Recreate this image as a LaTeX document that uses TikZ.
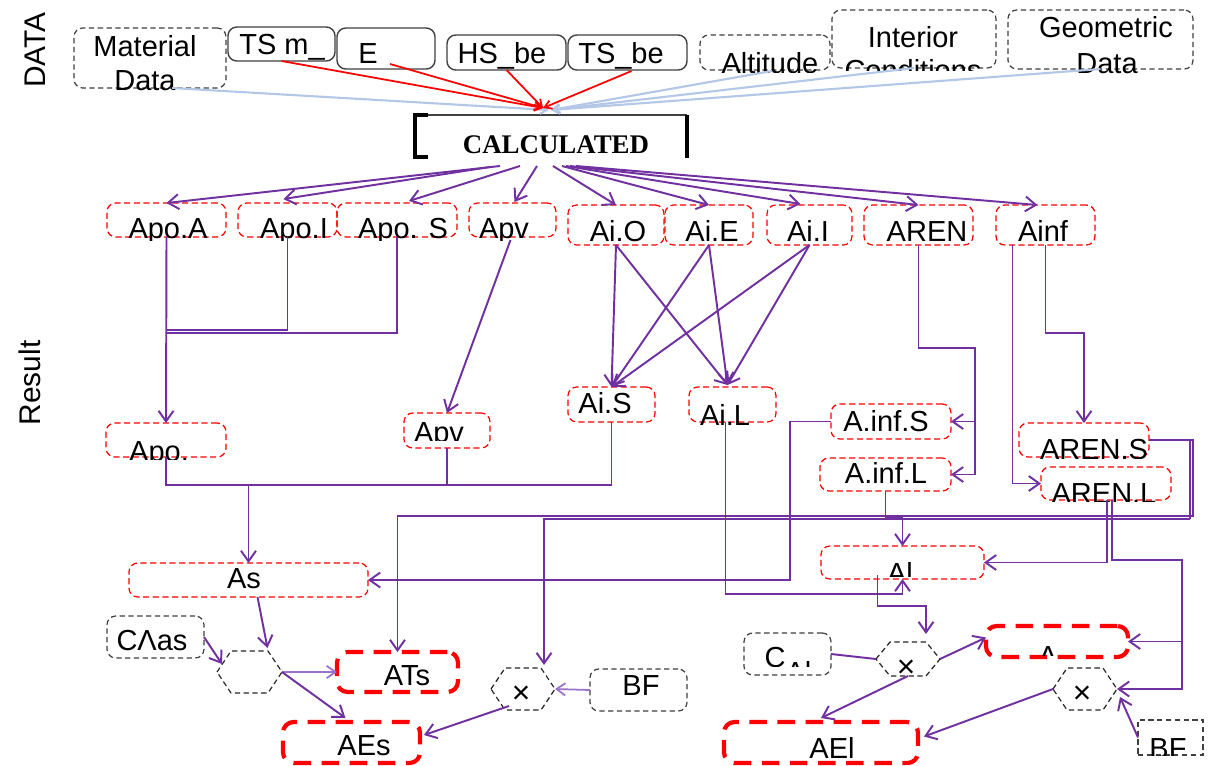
\documentclass[tikz,border=0pt]{standalone}
\usepackage{fontspec}
\setmainfont{Liberation Sans}
\newfontfamily\calcfont{Liberation Serif}
\usetikzlibrary{arrows.meta,calc}
\definecolor{pur}{HTML}{7030A0}
\definecolor{purl}{HTML}{9B72CB}
\definecolor{lblue}{HTML}{B4C7E7}
\definecolor{dgray}{HTML}{404040}
\newcommand\mkbox[6]{\node[#1, minimum width=(#4-#2)*0.02cm, minimum height=(#5-#3)*0.02cm, inner sep=0, outer sep=0] (#6) at ({(#2+#4)/2},{(#3+#5)/2}) {};}
\newcommand\ctxt[4]{\begin{scope}\clip (0,0) rectangle (1211,#3);\node[txt] (#1) at (#2) {#4};\end{scope}}
\newcommand\hexdraw[1]{\draw[hexl] (#1.west) -- ($(#1.north west)+(14,0)$) -- ($(#1.north east)+(-14,0)$) -- (#1.east) -- ($(#1.south east)+(-14,0)$) -- ($(#1.south west)+(14,0)$) -- cycle;}
\begin{document}
\begin{tikzpicture}[x=0.02cm,y=-0.02cm,
  rb/.style={draw=red, line width=0.7pt, dash pattern=on 3.5pt off 2pt, rounded corners=5pt},
  rt/.style={draw=red, line width=2.4pt, dash pattern=on 10pt off 6pt, rounded corners=6pt},
  kb/.style={draw=dgray, line width=0.7pt, dash pattern=on 3pt off 2pt, rounded corners=5pt},
  kq/.style={draw=dgray, line width=0.7pt, dash pattern=on 3pt off 2pt},
  ks/.style={draw=dgray, line width=0.8pt, rounded corners=5pt},
  hexl/.style={draw=black!85, line width=0.7pt, dash pattern=on 3pt off 2pt},
  txt/.style={font=\fontsize{16.5}{19}\selectfont, inner sep=0, anchor=base},
  tms/.style={font=\fontsize{18}{20}\selectfont, inner sep=0, anchor=center},
  pl/.style={draw=pur, line width=1.1pt},
  pa/.style={pl, -{Straight Barb[length=6pt,width=8.5pt]}},
  pal/.style={draw=purl, line width=1pt, -{Straight Barb[length=5pt,width=7pt]}},
  ra/.style={draw=red, line width=1pt, -{Straight Barb[length=4pt,width=5pt]}},
  ba/.style={draw=lblue, line width=1.2pt, -{Straight Barb[length=4pt,width=5pt]}}]
\useasboundingbox (0,0) rectangle (1211,765);
\fill[white] (0,0) rectangle (1211,765);

% side labels
\node[txt, anchor=center, rotate=90, font=\fontsize{17}{20}\selectfont] (datal) at (35,50) {DATA};
\node[txt, anchor=center, rotate=90, font=\fontsize{17}{20}\selectfont] (resl) at (30,383) {Result};

% data row
\mkbox{kb}{74}{28}{226}{88}{matd}
\node[txt] (matd1) at (145,56) {Material};
\node[txt] (matd2) at (145,90) {Data};
\mkbox{ks}{228}{27}{335}{61}{tsm}
\node[txt] (tsmt) at (282,54) {TS m\_};
\mkbox{ks}{337}{28}{435}{69}{e}
\node[txt] (et) at (368,63) {E};
\mkbox{ks}{447}{35}{566}{70}{hsbe}
\node[txt] (hsbet) at (502,63) {HS\_be};
\mkbox{ks}{568}{35}{687}{70}{tsbe}
\node[txt] (tsbet) at (621,63) {TS\_be};
\mkbox{kb}{700}{35}{830}{70}{alt}
\ctxt{altt}{770,73}{72}{Altitude}
\mkbox{kb}{832}{10}{996}{68}{intc}
\node[txt] (intc1) at (913,47) {Interior};
\ctxt{intc2}{913,80}{70}{Conditions}
\mkbox{kb}{1008}{10}{1193}{69}{geod}
\node[txt] (geod1) at (1106,37) {Geometric};
\node[txt] (geod2) at (1107,73) {Data};

% calculated
\mkbox{draw=none}{415}{115}{687}{157}{calcn}
\node[anchor=base, inner sep=0, font=\calcfont\bfseries\fontsize{15.3}{17}\selectfont] (calct) at (556,153) {CALCULATED};
\draw[dgray, line width=1pt] (calcn.north west) -- (calcn.north east);
\draw[black, line width=2.6pt] ($(calcn.north west)+(13,0)$) -- (calcn.north west) -- (calcn.south west) -- ($(calcn.south west)+(13,0)$);
\draw[black, line width=2.6pt] (calcn.north east) -- ($(calcn.south east)+(0,1)$);
\coordinate (conv) at ($(calcn.north)+(-6,-7)$);

% inputs
\draw[ba] ($(matd.south)+(22,0)$) -- ($(conv)+(4,2)$);
\draw[ba] ($(alt.south)+(7,1)$) -- ($(conv)+(6,2)$);
\draw[ba] (intc.south) -- ($(conv)+(6,2)$);
\draw[ba] (geod.south) -- ($(conv)+(6,2)$);
\draw[ra] (tsm.south) -- ($(conv)+(-2,0)$);
\draw[ra] ($(e.south)+(4,-5)$) -- ($(conv)+(-2,0)$);
\draw[ra] (hsbe.south) -- ($(conv)+(-2,0)$);
\draw[ra] ($(tsbe.south)+(4,1)$) -- ($(conv)+(-2,0)$);

% second row
\mkbox{rb}{107}{203}{226}{237}{apoA}
\mkbox{rb}{238}{203}{337}{237}{apoI}
\mkbox{rb}{337}{203}{457}{237}{apoS}
\mkbox{rb}{469}{203}{556}{237}{apvT}
\mkbox{rb}{568}{205}{664}{245}{aiO}
\mkbox{rb}{665}{205}{753}{245}{aiE}
\mkbox{rb}{767}{205}{852}{245}{aiI}
\mkbox{rb}{864}{205}{973}{245}{aren}
\mkbox{rb}{996}{205}{1095}{245}{ainf}
\ctxt{apoAt}{168,238}{240}{Apo.A}
\ctxt{apoIt}{294,238}{240}{Apo.I}
\ctxt{apoSt}{403,238}{240}{Apo. S}
\ctxt{apvTt}{504,238}{240}{Apv}
\node[txt] (aiOt) at (618,241) {Ai.O};
\node[txt] (aiEt) at (712,241) {Ai.E};
\node[txt] (aiIt) at (808,241) {Ai.I};
\node[txt] (arent) at (927,241) {AREN};
\node[txt] (ainft) at (1043,241) {Ainf};

\draw[pa] ($(calcn.south)+(-51,9)$) -- (apoA.north);
\draw[pa] ($(calcn.south)+(-61,10)$) -- ($(apoI.north)+(-4,-4)$);
\draw[pa] ($(calcn.south)+(-31,9)$) -- ($(apoS.north)+(12,-2)$);
\draw[pa] ($(calcn.south)+(-14,9)$) -- ($(apvT.north)+(2,-1)$);
\draw[pa] ($(calcn.south)+(2,9)$) -- (aiO.north);
\draw[pa] ($(calcn.south)+(11,9)$) -- (aiE.north);
\draw[pa] ($(calcn.south)+(15,9)$) -- ($(aiI.north)+(-9,-1)$);
\draw[pa] ($(calcn.south)+(19,9)$) -- (aren.north);
\draw[pa] ($(calcn.south)+(25,9)$) -- ($(ainf.north)+(-8,0)$);

% third row
\mkbox{rb}{106}{423}{226}{457}{apo}
\mkbox{rb}{404}{413}{490}{448}{apv}
\mkbox{rb}{568}{387}{655}{422}{aiS}
\mkbox{rb}{689}{387}{776}{422}{aiL}
\mkbox{rb}{831}{404}{951}{439}{ainfS}
\mkbox{rb}{820}{458}{951}{491}{ainfL}
\mkbox{rb}{1019}{423}{1149}{457}{arenS}
\mkbox{rb}{1041}{467}{1171}{500}{arenL}
\mkbox{rb}{129}{563}{368}{597}{as}
\mkbox{rb}{821}{546}{984}{579}{al}
\ctxt{apot}{159,461}{459}{Apo.}
\ctxt{apvt}{439,442}{440}{Apv}
\node[txt] (aiSt) at (605,413) {Ai.S};
\ctxt{aiLt}{725,425}{424}{Ai.L}
\node[txt] (ainfSt) at (886,431) {A.inf.S};
\node[txt] (ainfLt) at (886,483) {A.inf.L};
\ctxt{arenSt}{1094,459}{458}{AREN.S}
\ctxt{arenLt}{1104,503}{501}{AREN.L}
\node[txt] (ast) at (244,588) {As};
\ctxt{alx}{900,583}{576}{Al}

% connectors row2 -> row3
\draw[pa] (apoA.south) -- (apo.north);
\draw[pl] (apoI.south) |- (apoA.south |- 0,330);
\draw[pl] (apoS.south) |- (apoA.south |- 0,333);
\draw[pa] ($(apvT.south)+(-2,3)$) -- (apv.north);
\draw[pa] (aiO.south) -- (aiS.north);
\draw[pa] (aiO.south) -- ($(aiL.north)+(-5,-2)$);
\draw[pa] (aiE.south) -- (aiS.north);
\draw[pa] (aiE.south) -- ($(aiL.north)+(-5,-2)$);
\draw[pa] (aiI.south) -- (aiS.north);
\draw[pa] (aiI.south) -- ($(aiL.north)+(-5,-2)$);
\draw[pa] (aren.south) |- (975,348) |- (ainfL.east);
\draw[pa] (ainfS.east -| 975,0) -- (ainfS.east);
\draw[pa] ($(ainf.south)+(-33,0)$) |- (arenL.west);
\draw[pa] (ainf.south) |- (arenS.north |- 0,333) -- (arenS.north);

% row3 -> As, Al
\draw[pl] (apo.south) |- (aiS.south |- 0,485) -- (aiS.south);
\draw[pl] (apv.south) -- (apv.south |- 0,485);
\draw[pa] (as.north |- 0,485) -- (as.north);
\draw[pa] (ainfS.west) -| (as.east -| 790,0) -- (as.east);
\draw[pa] ($(aiL.south)+(-7,0)$) |- (al.south |- 0,594) -- (al.south);
\draw[pa] (ainfL.south) |- (al.north |- 0,518) -- (al.north);
\draw[pa] ($(arenL.south)+(1,0)$) |- (al.east);

% bottom nodes
\mkbox{kb}{107}{616}{204}{658}{cas}
\node[txt] (cast) at (152,650) {CΛas};
\mkbox{draw=none}{217}{651}{282}{693}{hexa}
\hexdraw{hexa}
\mkbox{rt}{337}{652}{458}{692}{ats}
\node[txt] (atst) at (407,685) {ATs};
\mkbox{draw=none}{491}{668}{555}{710}{hexb}
\hexdraw{hexb}
\node[tms] (hexbt) at (521,695) {×};
\mkbox{kb}{590}{669}{687}{711}{bf}
\node[txt] (bft) at (641,695) {BF};
\mkbox{rt}{283}{722}{420}{763}{aes}
\node[txt] (aest) at (364,755) {AEs};

\mkbox{kb}{744}{633}{831}{675}{cal}
\ctxt{calt}{788,667}{666}{C\raisebox{-9pt}{Al}}
\mkbox{draw=none}{876}{642}{940}{676}{hexc}
\hexdraw{hexc}
\node[tms] (hexct) at (906,669) {×};
\mkbox{rt}{986}{626}{1128}{657}{abox}
\ctxt{aboxt}{1048,666}{655}{A}
\mkbox{draw=none}{1053}{668}{1117}{710}{hexd}
\hexdraw{hexd}
\node[tms] (hexdt) at (1082,695) {×};
\mkbox{kq}{1138}{720}{1203}{755}{bfb}
\ctxt{bfbt}{1168,758}{755}{BF}
\mkbox{rt}{724}{722}{918}{763}{ael}
\node[txt] (aelt) at (832,758) {AEl};

% long connectors
\coordinate (bfin) at ($(hexb.north)+(21,-3)$);
\draw[pa] (arenS.east) -| (1193,516) -| (ats.north);
\draw[pl] (arenS.east) -| (1190,519);
\draw[pa] (1190,519) -| (bfin);
\draw[pa] ($(arenL.south)+(6,0)$) |- (1182,560) |- (hexd.east);
\draw[pa] (abox.east -| 1182,0) -- (abox.east);
\coordinate (hcin) at ($(hexc.north)+(18,-8)$);
\draw[pa] ($(al.south)+(-25,-4)$) |- (hcin |- 0,606) -- (hcin);

% bottom left connectors
\draw[pa] ($(as.south)+(9,0)$) -- ($(hexa.north)+(18,-3)$);
\draw[pa] (cas.east) -- ($(hexa.west)+(5,-8)$);
\draw[pal] (hexa.east) -- (ats.west);
\draw[pa] (hexa.east) -- ($(aes.north)+(-6,-4)$);
\draw[pal] (bf.west) -- (hexb.east);
\draw[pa] ($(hexb.south)+(-14,-4)$) -- ($(aes.north east)+(4,13)$);

% bottom right connectors
\draw[pl] (cal.east) -- (hexc.west);
\draw[pa] (hexc.east) -- ($(abox.west)+(0,-4)$);
\draw[pa] (hexc.south) -- ($(ael.north)+(0,-4)$);
\draw[pa] (hexd.west) -- ($(ael.east)+(6,-6)$);
\draw[pa] (bfb.west) -- ($(hexd.east)+(3,8)$);
\end{tikzpicture}
\end{document}
